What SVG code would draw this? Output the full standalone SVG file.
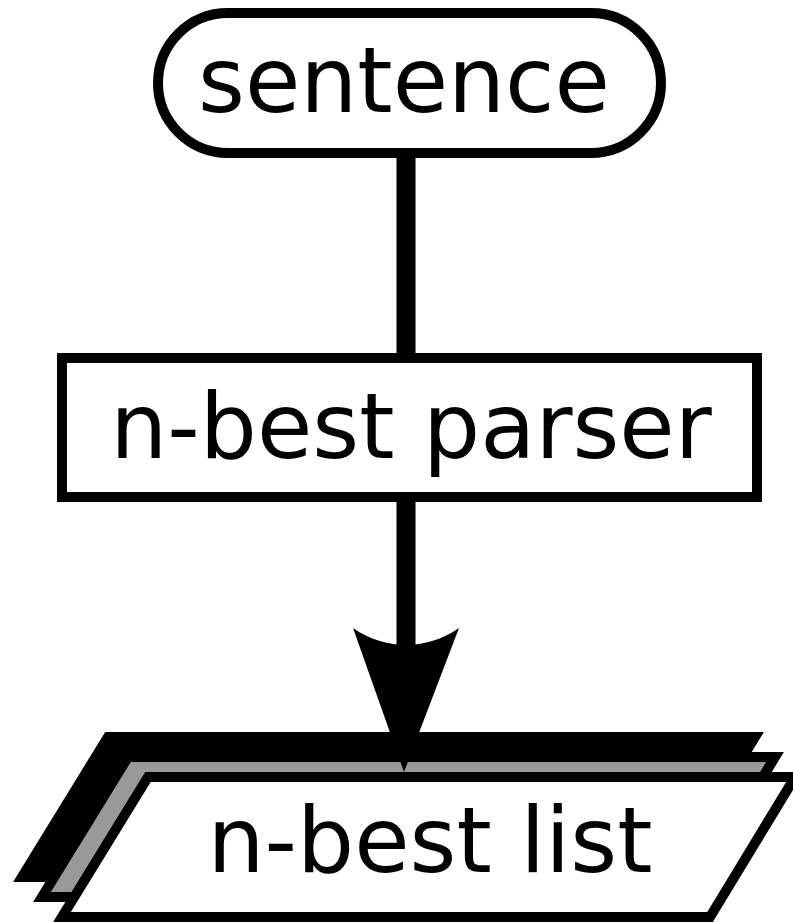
<svg xmlns="http://www.w3.org/2000/svg" width="793" height="922" viewBox="0 0 793 922">
  <style>
    .box { fill: #ffffff; stroke: #000000; stroke-width: 10; }
    .label { font-family: "DejaVu Sans", sans-serif; font-size: 90px; fill: #000000; text-anchor: middle; }
    .wire { stroke: #000000; stroke-width: 19; fill: none; }
    .head { fill: #000000; stroke: none; }
  </style>
  <defs>
    <!-- parallelogram outline for the stacked document node -->
    <path id="sheet" d="M148 777 L795 777 L710 917 L62 917 Z"/>
  </defs>
  <rect width="793" height="922" fill="#ffffff"/>

  <g id="sentence">
    <rect class="box" x="158" y="13" width="503" height="140" rx="70" ry="70"/>
    <text class="label" x="404" y="112">sentence</text>
  </g>

  <g id="parser">
    <rect class="box" x="62" y="358" width="695" height="139"/>
    <text class="label" x="411" y="458">n-best parser</text>
  </g>

  <g id="nbest-list">
    <use href="#sheet" transform="translate(-40,-40)" fill="#000000" stroke="#000000" stroke-width="10"/>
    <use href="#sheet" transform="translate(-20,-20)" fill="#999999" stroke="#000000" stroke-width="10"/>
    <use href="#sheet" class="box"/>
    <text class="label" x="430" y="872">n-best list</text>
  </g>

  <g id="connectors">
    <line class="wire" x1="406" y1="153" x2="406" y2="358"/>
    <line class="wire" x1="406" y1="497" x2="406" y2="648"/>
    <path class="head" d="M353 628 C370 640 390 645 406 645 C422 645 442 640 459 628 L404 772 Z"/>
  </g>
</svg>
